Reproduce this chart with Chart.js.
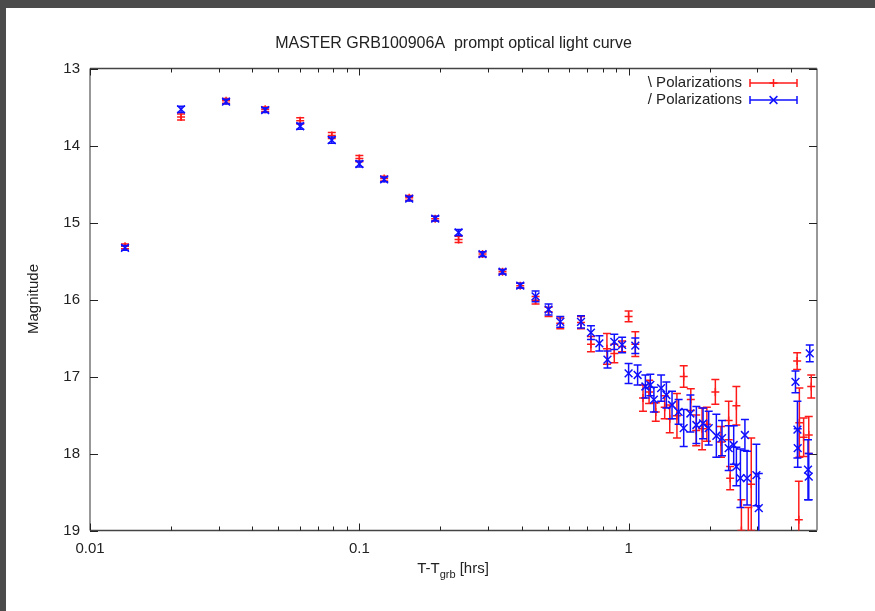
<!DOCTYPE html>
<html>
<head>
<meta charset="utf-8">
<script src="https://cdn.jsdelivr.net/npm/chart.js@4.4.1/dist/chart.umd.min.js"></script>
<style>
  html, body { margin:0; padding:0; width:875px; height:611px; overflow:hidden; background:#4b4b4b; }
  #sheet { position:absolute; left:6px; top:8px; right:0; bottom:0; background:#fff; }
  #wrap { position:absolute; left:0; top:0; width:875px; height:611px; }
</style>
</head>
<body>
<div id="sheet"></div>
<div id="wrap"><canvas id="lc" width="875" height="611"></canvas></div>
<script>
// ── data: time after trigger [hrs], magnitude, error ──
var redT   = [0.01349,0.02178,0.0320,0.0447,0.0603,0.0790,0.1000,0.1236,0.1531,0.1912,0.2335,0.2866,0.340,0.3956,0.451,0.504,0.557,0.665,0.724,0.83,0.884,0.945,0.999,1.058,1.13,1.19,1.26,1.36,1.42,1.51,1.60,1.70,1.78,1.872,1.95,2.097,2.20,2.35,2.38,2.51,2.62,2.78,2.85,4.22,4.28,4.30,4.46,4.66,4.76];
var redMag = [15.31,13.63,13.42,13.53,13.68,13.87,14.17,14.43,14.68,14.95,15.22,15.41,15.64,15.82,16.01,16.16,16.31,16.30,16.58,16.64,16.70,16.61,16.22,16.58,17.28,17.20,17.46,17.40,17.55,17.51,17.00,17.30,17.70,17.68,17.62,17.20,17.85,17.57,18.32,17.38,19.00,19.10,18.40,16.80,18.86,17.60,17.79,17.76,17.13];
var redErr = [0.03,0.04,0.03,0.03,0.04,0.04,0.04,0.03,0.03,0.03,0.04,0.03,0.03,0.03,0.05,0.06,0.07,0.08,0.10,0.20,0.12,0.07,0.07,0.16,0.17,0.15,0.12,0.15,0.18,0.29,0.14,0.14,0.20,0.27,0.22,0.16,0.20,0.25,0.15,0.25,0.40,0.40,0.60,0.11,0.50,0.45,0.25,0.24,0.15];

var blueT   = [0.01349,0.02178,0.0320,0.0447,0.0603,0.0790,0.1000,0.1236,0.1531,0.1912,0.2335,0.2866,0.340,0.3956,0.451,0.504,0.557,0.665,0.724,0.778,0.834,0.884,0.945,0.999,1.058,1.079,1.153,1.203,1.24,1.319,1.38,1.448,1.532,1.60,1.694,1.783,1.888,1.981,2.115,2.22,2.35,2.453,2.51,2.598,2.70,2.75,2.978,3.04,4.16,4.23,4.24,4.63,4.66,4.70];
var blueMag = [15.33,13.53,13.43,13.54,13.75,13.93,14.24,14.44,14.69,14.95,15.13,15.41,15.64,15.82,15.96,16.13,16.29,16.29,16.43,16.57,16.78,16.55,16.59,16.96,16.60,16.98,17.13,17.11,17.30,17.15,17.24,17.37,17.46,17.67,17.48,17.63,17.61,17.67,17.77,17.80,17.93,17.89,18.17,18.32,17.76,18.32,18.28,18.71,17.07,17.69,17.93,18.21,18.30,16.70];
var blueErr = [0.03,0.04,0.03,0.03,0.04,0.04,0.04,0.03,0.03,0.03,0.04,0.03,0.03,0.03,0.07,0.07,0.07,0.08,0.09,0.10,0.11,0.10,0.10,0.13,0.10,0.13,0.15,0.14,0.16,0.17,0.17,0.18,0.16,0.24,0.24,0.24,0.20,0.22,0.28,0.23,0.29,0.25,0.25,0.38,0.20,0.35,0.40,0.45,0.14,0.37,0.25,0.39,0.30,0.11];

var xMajor = [0.01, 0.1, 1];
var xMajorText = ['0.01', '0.1', '1'];
var xMinor = [0.02,0.03,0.04,0.05,0.06,0.07,0.08,0.09,0.2,0.3,0.4,0.5,0.6,0.7,0.8,0.9,2,3,4];
var yTicks = [13, 14, 15, 16, 17, 18, 19];

var FONT = "'Liberation Sans', Arial, sans-serif";
var RED = '#ff1a1a', BLUE = '#1010ff';

function pts(t, m) { return t.map(function(v, i){ return {x: v, y: m[i]}; }); }

// error bars drawn just before each dataset's own points
var errorBars = {
    id: 'errorBars',
    beforeDatasetDraw: function(chart, args) {
        var ds = chart.data.datasets[args.index];
        var xs = chart.scales.x, ys = chart.scales.y, a = chart.chartArea, ctx = chart.ctx;
        ctx.save();
        ctx.beginPath(); ctx.rect(a.left, a.top, a.right - a.left, a.bottom - a.top); ctx.clip();
        ctx.strokeStyle = ds.borderColor; ctx.lineWidth = 1.5;
        ds.data.forEach(function(p, i) {
            var e = ds.errors[i];
            var px = xs.getPixelForValue(p.x);
            var y1 = ys.getPixelForValue(p.y - e), y2 = ys.getPixelForValue(p.y + e);
            ctx.beginPath();
            ctx.moveTo(px, y1); ctx.lineTo(px, y2);
            ctx.moveTo(px - 4, y1); ctx.lineTo(px + 4, y1);
            ctx.moveTo(px - 4, y2); ctx.lineTo(px + 4, y2);
            ctx.stroke();
        });
        ctx.restore();
    }
};

// gnuplot style frame with inward ticks
var frame = {
    id: 'frame',
    beforeDatasetsDraw: function(chart) {
        var a = chart.chartArea, ctx = chart.ctx, xs = chart.scales.x, ys = chart.scales.y;
        ctx.save();
        ctx.lineWidth = 1.5;
        ctx.strokeStyle = '#444';
        ctx.beginPath();
        ctx.moveTo(a.left, a.top); ctx.lineTo(a.right, a.top);
        ctx.moveTo(a.left, a.bottom); ctx.lineTo(a.right, a.bottom);
        ctx.stroke();
        ctx.strokeStyle = '#777';
        ctx.beginPath();
        ctx.moveTo(a.left, a.top); ctx.lineTo(a.left, a.bottom);
        ctx.moveTo(a.right, a.top); ctx.lineTo(a.right, a.bottom);
        ctx.stroke();
        ctx.strokeStyle = '#222'; ctx.lineWidth = 1;
        ctx.beginPath();
        xMajor.concat(xMinor).forEach(function(v) {
            var px = Math.round(xs.getPixelForValue(v)) + 0.5;
            var len = xMajor.indexOf(v) >= 0 ? 7 : 4;
            ctx.moveTo(px, a.bottom); ctx.lineTo(px, a.bottom - len);
            ctx.moveTo(px, a.top); ctx.lineTo(px, a.top + len);
        });
        yTicks.forEach(function(v) {
            var py = Math.round(ys.getPixelForValue(v)) + 0.5;
            ctx.moveTo(a.left, py); ctx.lineTo(a.left + 8, py);
            ctx.moveTo(a.right, py); ctx.lineTo(a.right - 8, py);
        });
        ctx.stroke();
        ctx.restore();
    },
    afterDraw: function(chart) {
        var ctx = chart.ctx;
        ctx.save();
        ctx.fillStyle = '#222';
        ctx.textBaseline = 'middle';
        // title
        ctx.font = '16px ' + FONT; ctx.textAlign = 'center';
        ctx.fillText('MASTER GRB100906A  prompt optical light curve', 453.5, 44);
        // y title
        ctx.save();
        ctx.translate(34, 299); ctx.rotate(-Math.PI / 2);
        ctx.font = '15px ' + FONT;
        ctx.fillText('Magnitude', 0, 0);
        ctx.restore();
        // x title with subscript
        ctx.textAlign = 'left';
        ctx.font = '15px ' + FONT;
        var w1 = ctx.measureText('T-T').width, w3 = ctx.measureText(' [hrs]').width;
        ctx.font = '11px ' + FONT;
        var w2 = ctx.measureText('grb').width;
        var x0 = 453 - (w1 + w2 + w3) / 2, yb = 569;
        ctx.font = '15px ' + FONT; ctx.fillText('T-T', x0, yb);
        ctx.font = '11px ' + FONT; ctx.fillText('grb', x0 + w1, yb + 6);
        ctx.font = '15px ' + FONT; ctx.fillText(' [hrs]', x0 + w1 + w2, yb);
        // key
        var keys = [['\\ Polarizations', RED, 'cross'], ['/ Polarizations', BLUE, 'crossRot']];
        keys.forEach(function(k, i) {
            var y = 83 + i * 17;
            ctx.font = '15px ' + FONT; ctx.textAlign = 'right'; ctx.fillStyle = '#222';
            ctx.fillText(k[0], 742, y);
            ctx.strokeStyle = k[1]; ctx.lineWidth = 1.5;
            ctx.beginPath();
            ctx.moveTo(750, y); ctx.lineTo(797, y);
            ctx.moveTo(750, y - 4); ctx.lineTo(750, y + 4);
            ctx.moveTo(797, y - 4); ctx.lineTo(797, y + 4);
            ctx.stroke();
            Chart.helpers.drawPoint(ctx, {pointStyle: k[2], radius: k[2] === 'cross' ? 4 : 5.5, borderWidth: 1.5}, 773.5, y);
        });
        ctx.restore();
    }
};

new Chart(document.getElementById('lc'), {
    type: 'scatter',
    data: {
        datasets: [
            { label: '\\ Polarizations', data: pts(redT, redMag), errors: redErr, order: 2,
              borderColor: RED, backgroundColor: RED, pointStyle: 'cross', pointRadius: 4, pointBorderWidth: 1.5 },
            { label: '/ Polarizations', data: pts(blueT, blueMag), errors: blueErr, order: 1,
              borderColor: BLUE, backgroundColor: BLUE, pointStyle: 'crossRot', pointRadius: 5.5, pointBorderWidth: 1.5 }
        ]
    },
    options: {
        responsive: false,
        animation: false,
        layout: { padding: { top: 68.5, right: 58, bottom: 0, left: 0 } },
        plugins: { legend: { display: false }, tooltip: { enabled: false }, title: { display: false } },
        scales: {
            x: {
                type: 'logarithmic', min: 0.01, max: 5,
                grid: { display: false, drawTicks: false }, border: { display: false },
                afterFit: function(s) { s.height = 80.5; },
                afterBuildTicks: function(s) {
                    s.ticks = xMajor.map(function(v) { return {value: v}; });
                },
                ticks: {
                    autoSkip: false, maxRotation: 0, padding: 9, color: '#222',
                    font: { family: FONT, size: 15 },
                    callback: function(v) { var i = xMajor.indexOf(v); return i >= 0 ? xMajorText[i] : ''; }
                }
            },
            y: {
                min: 13, max: 19, reverse: true,
                grid: { display: false, drawTicks: false }, border: { display: false },
                afterFit: function(s) { s.width = 90; },
                ticks: { stepSize: 1, padding: 10, color: '#222', font: { family: FONT, size: 15 } }
            }
        }
    },
    plugins: [errorBars, frame]
});
</script>
</body>
</html>
